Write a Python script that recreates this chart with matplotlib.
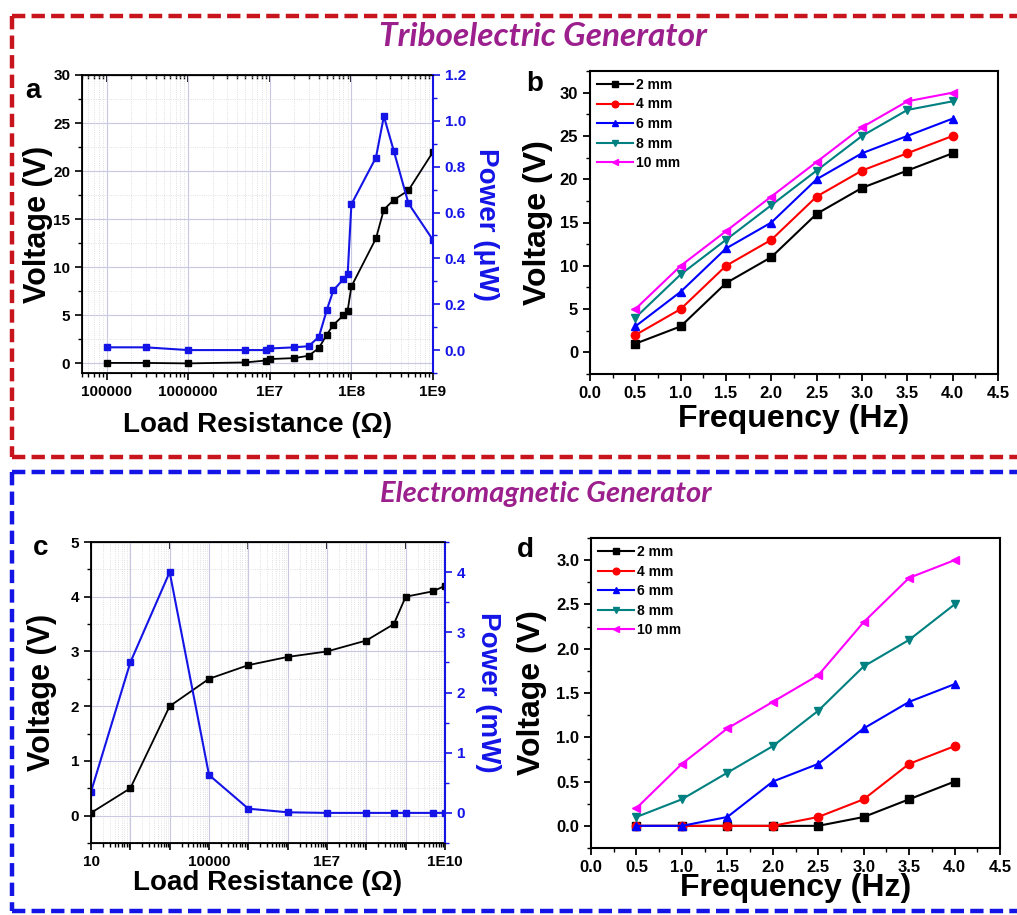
import numpy as np
import matplotlib.pyplot as plt
from matplotlib.lines import Line2D
from matplotlib.ticker import LogLocator, MultipleLocator, FuncFormatter, NullFormatter

plt.rcParams['font.family'] = ['Liberation Sans', 'DejaVu Sans']
plt.rcParams['font.weight'] = 'bold'
plt.rcParams['axes.labelweight'] = 'bold'

# (a) triboelectric generator: voltage / power vs load resistance
teng_R = [1e5, 3e5, 1e6, 5e6, 9e6, 1e7, 2e7, 3e7, 4e7, 5e7, 6e7, 8e7, 9e7,
          1e8, 2e8, 2.5e8, 3.3e8, 5e8, 1e9]
teng_V = [0.05, 0.05, 0.0, 0.1, 0.3, 0.45, 0.55, 0.8, 1.6, 3.0, 4.0, 5.0, 5.5,
          8.0, 13.0, 16.0, 17.0, 18.0, 22.0]
teng_P = [0.012, 0.012, 0.0, 0.0, 0.0, 0.007, 0.012, 0.017, 0.058, 0.175, 0.26,
          0.31, 0.33, 0.636, 0.84, 1.02, 0.87, 0.64, 0.48]

# (c) electromagnetic generator: voltage / power vs load resistance
emg_R = [10, 100, 1e3, 1e4, 1e5, 1e6, 1e7, 1e8, 5e8, 1e9, 5e9, 1e10]
emg_V = [0.05, 0.5, 2.0, 2.5, 2.75, 2.9, 3.0, 3.2, 3.5, 4.0, 4.1, 4.2]
emg_P = [0.35, 2.5, 4.0, 0.63, 0.07, 0.01, 0.0, 0.0, 0.0, 0.0, 0.0, 0.0]

# (b), (d) voltage vs frequency for different gaps
freq = [0.5, 1.0, 1.5, 2.0, 2.5, 3.0, 3.5, 4.0]
gaps = ['2 mm', '4 mm', '6 mm', '8 mm', '10 mm']
teng_f = [
    [1, 3, 8, 11, 16, 19, 21, 23],
    [2, 5, 10, 13, 18, 21, 23, 25],
    [3, 7, 12, 15, 20, 23, 25, 27],
    [4, 9, 13, 17, 21, 25, 28, 29],
    [5, 10, 14, 18, 22, 26, 29, 30],
]
emg_f = [
    [0, 0, 0, 0, 0, 0.1, 0.3, 0.5],
    [0, 0, 0, 0, 0.1, 0.3, 0.7, 0.9],
    [0, 0, 0.1, 0.5, 0.7, 1.1, 1.4, 1.6],
    [0.1, 0.3, 0.6, 0.9, 1.3, 1.8, 2.1, 2.5],
    [0.2, 0.7, 1.1, 1.4, 1.7, 2.3, 2.8, 3.0],
]
colors = ['black', '#ff0000', '#0000ff', '#008080', '#ff00ff']
markers = ['s', 'o', '^', 'v', '<']

BLUE = '#1414e6'
PURPLE = '#9b1f8c'

W, H = 1017, 915
fig = plt.figure(figsize=(W / 100, H / 100), dpi=100)


def box(px):
    l, b, r, t = px
    return [l / W, 1 - b / H, (r - l) / W, (b - t) / H]


def frame(color, top, bottom):
    # dashed border running off the right edge
    kw = dict(color=color, lw=3.2, linestyle=(0, (3.0, 1.4)), transform=fig.transFigure)
    x0 = 12 / W
    fig.add_artist(Line2D([x0, 1.02], [1 - top / H] * 2, **kw))
    fig.add_artist(Line2D([x0, 1.02], [1 - bottom / H] * 2, **kw))
    fig.add_artist(Line2D([x0, x0], [1 - top / H, 1 - bottom / H], **kw))


def load_panel(ax, R, V, P, xlim, vlim, plim, vmajor, vminor, pmajor, pminor,
               labelled, pfmt, plabel):
    ax.set_xscale('log')
    ax.plot(R, V, color='black', marker='s', ms=4, lw=1.3)
    ax.set_xlim(*xlim)
    ax.set_ylim(*vlim)
    ax.xaxis.set_major_locator(LogLocator(base=10, numticks=20))
    ax.xaxis.set_minor_locator(LogLocator(base=10, subs=np.arange(2, 10), numticks=20))
    ax.xaxis.set_minor_formatter(NullFormatter())

    def fmt(x, pos):
        e = int(round(np.log10(x)))
        if x not in labelled:
            return ''
        return str(int(x)) if e <= 6 else '1E%d' % e
    ax.xaxis.set_major_formatter(FuncFormatter(fmt))
    ax.yaxis.set_major_locator(MultipleLocator(vmajor))
    ax.yaxis.set_minor_locator(MultipleLocator(vminor))
    ax.grid(which='major', color='#c8c8e2', lw=0.8)
    ax.grid(which='minor', color='#d6d6d6', lw=0.6, ls=':')
    ax.tick_params(which='both', direction='out', labelsize=11)
    ax.tick_params(which='major', length=5, width=1.2)
    ax.tick_params(which='minor', length=3, width=1)
    sec = ax.secondary_xaxis('top')
    sec.tick_params(which='both', direction='in', labeltop=False)
    sec.tick_params(which='major', length=5, width=1.2)
    sec.tick_params(which='minor', length=3, width=1)
    for s in ax.spines.values():
        s.set_linewidth(1.3)
    ax.set_xlabel('Load Resistance (Ω)', fontsize=20, va='center')
    ax.set_ylabel('Voltage (V)', fontsize=22, va='center')

    ax2 = ax.twinx()
    ax2.plot(R, P, color=BLUE, marker='s', ms=4, lw=1.5)
    ax2.set_ylim(*plim)
    ax2.yaxis.set_major_locator(MultipleLocator(pmajor))
    ax2.yaxis.set_minor_locator(MultipleLocator(pminor))
    ax2.yaxis.set_major_formatter(FuncFormatter(lambda v, p: pfmt % v))
    ax2.tick_params(which='both', direction='out', colors=BLUE, labelsize=11)
    ax2.tick_params(which='major', length=5, width=1.2)
    ax2.tick_params(which='minor', length=3, width=1)
    ax2.spines['right'].set_color(BLUE)
    ax2.spines['right'].set_linewidth(1.5)
    ax2.set_ylabel(plabel, fontsize=20, color=BLUE, rotation=270, va='center')
    return ax2


def freq_panel(ax, series, ylim, major, minor):
    for vals, c, m, g in zip(series, colors, markers, gaps):
        ax.plot(freq, vals, color=c, marker=m, ms=6, lw=1.5, label=g)
    ax.set_xlim(0, 4.5)
    ax.set_ylim(*ylim)
    ax.xaxis.set_major_locator(MultipleLocator(0.5))
    ax.xaxis.set_minor_locator(MultipleLocator(0.25))
    ax.xaxis.set_major_formatter(FuncFormatter(lambda v, p: '%.1f' % v))
    ax.yaxis.set_major_locator(MultipleLocator(major))
    ax.yaxis.set_minor_locator(MultipleLocator(minor))
    ax.tick_params(which='both', direction='out', labelsize=12)
    ax.tick_params(which='major', length=5, width=1.3)
    ax.tick_params(which='minor', length=3, width=1)
    for s in ax.spines.values():
        s.set_linewidth(1.5)
    ax.set_xlabel('Frequency (Hz)', fontsize=23, va='top')
    ax.set_ylabel('Voltage (V)', fontsize=23, va='center')
    ax.legend(loc='upper left', frameon=False, fontsize=10, handlelength=2.6,
              handletextpad=0.2, labelspacing=0.4, borderaxespad=0.3,
              borderpad=0.2, markerscale=0.8)


frame('#c8141c', 16, 457)
frame(BLUE, 472, 911)

fig.text(543 / W, 1 - 37 / H, 'Triboelectric Generator', color=PURPLE, fontsize=24,
         family='Lato', style='italic', weight='bold', ha='center', va='center')
fig.text(546 / W, 1 - 494 / H, 'Electromagnetic Generator', color=PURPLE, fontsize=21,
         family='Lato', style='italic', weight='bold', ha='center', va='center')

# panel a
ax_a = fig.add_axes(box((82, 373, 433, 75)))
ax_a2 = load_panel(ax_a, teng_R, teng_V, teng_P, (5e4, 1e9), (-1, 30), (-0.1, 1.2),
                   5, 2.5, 0.2, 0.1, [1e5, 1e6, 1e7, 1e8, 1e9], '%.1f', 'Power (μW)')
ax_a.yaxis.set_label_coords(-0.125, 0.5)
ax_a.xaxis.set_label_coords(0.5, -0.175)
ax_a2.yaxis.set_label_coords(1.15, 0.5)

# panel b
ax_b = fig.add_axes(box((590, 374, 998, 71)))
freq_panel(ax_b, teng_f, (-2.5, 32.5), 5, 2.5)
ax_b.yaxis.set_label_coords(-0.127, 0.5)
ax_b.xaxis.set_label_coords(0.5, -0.1)

# panel c
ax_c = fig.add_axes(box((91, 843, 445, 542)))
ax_c2 = load_panel(ax_c, emg_R, emg_V, emg_P, (10, 1e10), (-0.5, 5), (-0.5, 4.5),
                   1, 0.5, 1, 0.5, [10, 1e4, 1e7, 1e10], '%d', 'Power (mW)')
ax_c.yaxis.set_label_coords(-0.138, 0.5)
ax_c.xaxis.set_label_coords(0.5, -0.133)
ax_c2.yaxis.set_label_coords(1.121, 0.5)

# panel d
ax_d = fig.add_axes(box((591, 848, 1000, 538)))
freq_panel(ax_d, emg_f, (-0.25, 3.25), 0.5, 0.25)
ax_d.yaxis.set_major_formatter(FuncFormatter(lambda v, p: '%.1f' % v))
ax_d.yaxis.set_label_coords(-0.144, 0.5)
ax_d.xaxis.set_label_coords(0.5, -0.082)

for letter, x, y in [('a', 33, 91), ('b', 535, 84), ('c', 41, 548), ('d', 525, 550)]:
    fig.text(x / W, 1 - y / H, letter, fontsize=20, weight='bold', ha='center', va='center')

fig.savefig('out.png', dpi=100)
